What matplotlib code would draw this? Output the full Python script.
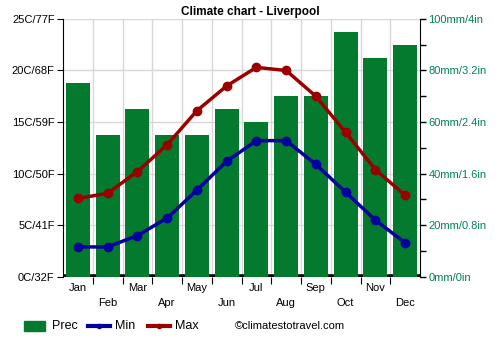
import matplotlib
matplotlib.use("Agg")
import matplotlib.pyplot as plt
from matplotlib.lines import Line2D
from matplotlib.patches import Rectangle
import numpy as np

plt.rcParams['font.family'] = ['Liberation Sans', 'DejaVu Sans']

months = ["Jan", "Feb", "Mar", "Apr", "May", "Jun", "Jul", "Aug", "Sep", "Oct", "Nov", "Dec"]
prec = [75, 55, 65, 55, 55, 65, 60, 70, 70, 95, 85, 90]
tmin = [2.9, 2.9, 4.0, 5.7, 8.4, 11.2, 13.2, 13.2, 10.9, 8.2, 5.5, 3.3]
tmax = [7.6, 8.1, 10.2, 12.8, 16.1, 18.5, 20.3, 20.0, 17.5, 14.0, 10.4, 7.9]
left_labels = ["0C/32F", "5C/41F", "10C/50F", "15C/59F", "20C/68F", "25C/77F"]
right_labels = ["0mm/0in", "20mm/0.8in", "40mm/1.6in", "60mm/2.4in", "80mm/3.2in", "100mm/4in"]

green = "#037a2d"
red = "#9b0000"
blue = "#0000a0"
teal = "#00805a"
fs = 8

fig = plt.figure(figsize=(5, 3.5), dpi=100)
ax = fig.add_axes([0.126, 0.209, 0.714, 0.737])
ax2 = ax.twinx()

x = np.arange(12)
ax2.axhline(0, color="black", lw=4, zorder=1)
ax2.bar(x, prec, width=0.8, color=green, zorder=2)
ax2.set_ylim(0, 100)
ax2.set_yticks(np.arange(0, 101, 20))
ax2.set_yticklabels(right_labels, fontsize=fs)
ax2.set_yticks(np.arange(0, 101, 10), minor=True)
ax2.tick_params(axis="y", which="both", length=4, width=1, colors="black", labelcolor=teal, pad=2)

ax.set_zorder(ax2.get_zorder() + 1)
ax.patch.set_visible(False)
ax.plot(x, tmin, color=blue, lw=2.5, marker="o", ms=6, zorder=4)
ax.plot(x, tmax, color=red, lw=2.5, marker="o", ms=6, zorder=4)
ax.set_ylim(0, 25)
ax.set_xlim(-0.5, 11.5)
ax.set_yticks(np.arange(0, 26, 5))
ax.set_yticklabels(left_labels, fontsize=fs)
ax.tick_params(axis="y", length=4, pad=2)

for yv in np.arange(20, 101, 20):
    ax2.axhline(yv, color="#d8d8d8", lw=1, zorder=0)
for xv in np.arange(0.5, 11.5, 1):
    ax2.axvline(xv, color="#d8d8d8", lw=1, zorder=0)

ax.set_xticks(np.arange(0.5, 11.5, 1))
ax.set_xticklabels([])
ax.tick_params(axis="x", length=5)
for i, m in enumerate(months):
    off = -6 if i % 2 == 0 else -21
    ax.annotate(m, xy=(i, 0), xycoords=("data", "axes fraction"), xytext=(0, off),
                textcoords="offset pixels", ha="center", va="top", fontsize=fs)

for a in (ax, ax2):
    a.spines["top"].set_visible(False)
    a.spines["bottom"].set_visible(False)
ax.spines["right"].set_visible(False)
ax2.spines["left"].set_visible(False)

fig.text(0.5, 0.948, "Climate chart - Liverpool", ha="center", va="bottom", fontsize=8.5, fontweight="bold")

# legend drawn manually
ly = 1 - 326 / 350
fig.patches.append(Rectangle((24 / 500, ly - 5 / 350), 21 / 500, 10 / 350, color=green,
                             transform=fig.transFigure, figure=fig))
fig.text(52 / 500, ly, "Prec", ha="left", va="center", fontsize=9)
fig.lines.append(Line2D([88 / 500, 110 / 500], [ly, ly], color=blue, lw=3,
                        transform=fig.transFigure, figure=fig))
fig.lines.append(Line2D([99 / 500], [ly], color=blue, marker="o", ms=3,
                        transform=fig.transFigure, figure=fig))
fig.text(115 / 500, ly, "Min", ha="left", va="center", fontsize=9)
fig.lines.append(Line2D([148 / 500, 170 / 500], [ly, ly], color=red, lw=3,
                        transform=fig.transFigure, figure=fig))
fig.lines.append(Line2D([159 / 500], [ly], color=red, marker="o", ms=3,
                        transform=fig.transFigure, figure=fig))
fig.text(175 / 500, ly, "Max", ha="left", va="center", fontsize=9)
fig.text(235 / 500, ly, "©climatestotravel.com", ha="left", va="center", fontsize=8)

fig.savefig("out.png", dpi=100)
